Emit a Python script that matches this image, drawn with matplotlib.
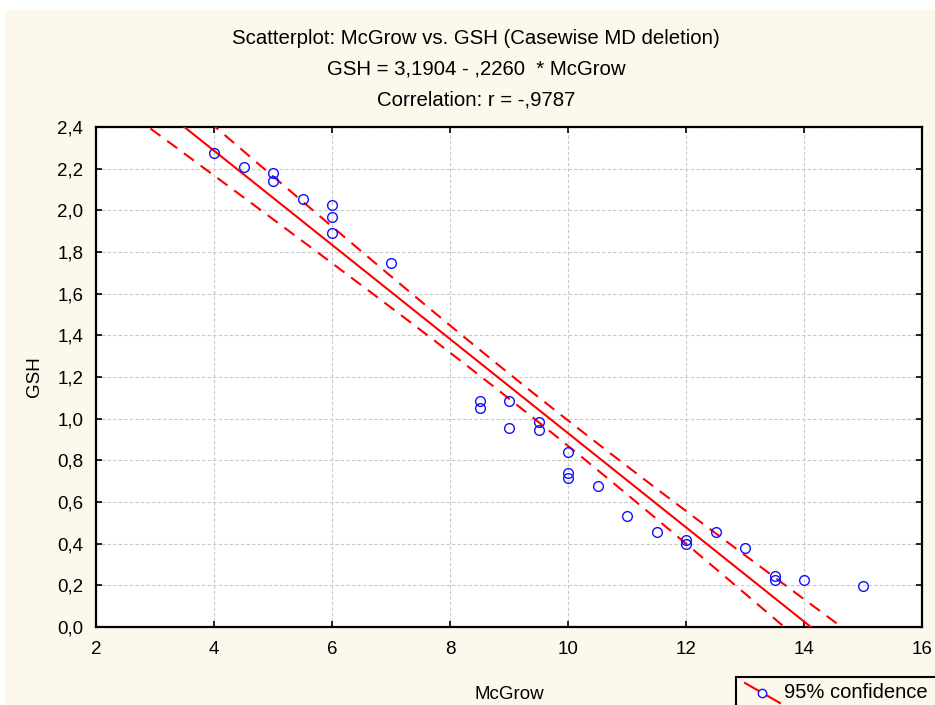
import numpy as np
import matplotlib
matplotlib.use("Agg")
import matplotlib.pyplot as plt
from matplotlib.ticker import FuncFormatter
from matplotlib.lines import Line2D
from matplotlib.patches import Rectangle

plt.rcParams['font.family'] = ['Liberation Sans', 'DejaVu Sans']

# Data
mcgrow = [4, 4.5, 5, 5, 5.5, 6, 6, 6, 7, 8.5, 8.5, 9, 9, 9.5, 9.5, 10, 10, 10,
          10.5, 11, 11.5, 12, 12, 12.5, 13, 13.5, 13.5, 14, 15]
gsh = [2.275, 2.208, 2.18, 2.141, 2.055, 2.026, 1.969, 1.892, 1.749, 1.087, 1.049,
       1.087, 0.953, 0.982, 0.944, 0.838, 0.738, 0.714, 0.675, 0.532, 0.455,
       0.417, 0.398, 0.455, 0.378, 0.244, 0.225, 0.225, 0.196]
intercept = 3.1904
slope = -0.2260
t_crit = 2.052  # t(0.975, df=27)

title_lines = ["Scatterplot: McGrow vs. GSH (Casewise MD deletion)",
               "GSH = 3,1904 - ,2260  * McGrow",
               "Correlation: r = -,9787"]
x_ticks = [2, 4, 6, 8, 10, 12, 14, 16]
y_ticks = [0.0, 0.2, 0.4, 0.6, 0.8, 1.0, 1.2, 1.4, 1.6, 1.8, 2.0, 2.2, 2.4]
legend_label = "95% confidence"

x = np.array(mcgrow)
y = np.array(gsh)
n = len(x)
resid = y - (intercept + slope * x)
s = np.sqrt(np.sum(resid ** 2) / (n - 2))
xbar = x.mean()
sxx = np.sum((x - xbar) ** 2)

W, H = 935, 705
fig = plt.figure(figsize=(W / 100, H / 100), dpi=100)
fig.patch.set_facecolor('white')
cream = '#FDF8EC'
fig.patches.append(Rectangle((5 / W, 0), 1, 1 - 10 / H, transform=fig.transFigure,
                             facecolor=cream, edgecolor='none', zorder=-10))

ax = fig.add_axes([96 / W, 1 - 627 / H, (922 - 96) / W, (627 - 127) / H])
ax.set_facecolor('white')

xs = np.linspace(1.5, 16.5, 400)
ys = intercept + slope * xs
half = t_crit * s * np.sqrt(1 / n + (xs - xbar) ** 2 / sxx)
ax.plot(xs, ys, color='red', lw=1.5, zorder=3)
ax.plot(xs, ys + half, color='red', lw=1.5, ls=(0, (6, 4)), zorder=3)
ax.plot(xs, ys - half, color='red', lw=1.5, ls=(0, (6, 4)), zorder=3)
ax.plot(x, y, ls='none', marker='o', ms=7, mfc='none', mec='#1010FF', mew=1.0, zorder=4)

ax.set_xlim(2, 16)
ax.set_ylim(0, 2.4)
ax.set_xticks(x_ticks)
ax.set_yticks(y_ticks)
ax.xaxis.set_major_formatter(FuncFormatter(lambda v, p: f"{v:.0f}"))
ax.yaxis.set_major_formatter(FuncFormatter(lambda v, p: f"{v:.1f}".replace('.', ',')))
ax.tick_params(direction='in', length=4, width=1.2, labelsize=13.5, top=True, right=True,
               colors='black')
ax.tick_params(axis='x', pad=10)
ax.tick_params(axis='y', pad=9)
ax.grid(True, color='#c8c8c8', ls=(0, (3, 2)), lw=0.8)
for sp in ax.spines.values():
    sp.set_linewidth(1.6)
ax.set_xlabel("McGrow", fontsize=13.5, labelpad=20)
ax.set_ylabel("GSH", fontsize=13.5, labelpad=10)

for i, t in enumerate(title_lines):
    fig.text(476 / W, 1 - (38 + 31 * i) / H, t, ha='center', va='center', fontsize=14.7)

# Legend (partially cut off at the figure edge, like the reference)
def fx(px):
    return px / W

def fy(py):
    return 1 - py / H

fig.patches.append(Rectangle((fx(736), fy(720)), fx(300), (720 - 677) / H,
                             transform=fig.transFigure, facecolor=cream,
                             edgecolor='black', lw=1.5, zorder=5))
fig.add_artist(Line2D([fx(745), fx(780)], [fy(683), fy(703)], color='red', lw=1.5,
                      transform=fig.transFigure, zorder=6))
fig.add_artist(Line2D([fx(762)], [fy(693)], marker='o', ms=6, mfc='white', mec='#1010FF',
                      mew=1.0, transform=fig.transFigure, zorder=7))
fig.text(fx(784), fy(693), legend_label, ha='left', va='center', fontsize=14.5, zorder=8)

fig.savefig("out.png", dpi=100)
